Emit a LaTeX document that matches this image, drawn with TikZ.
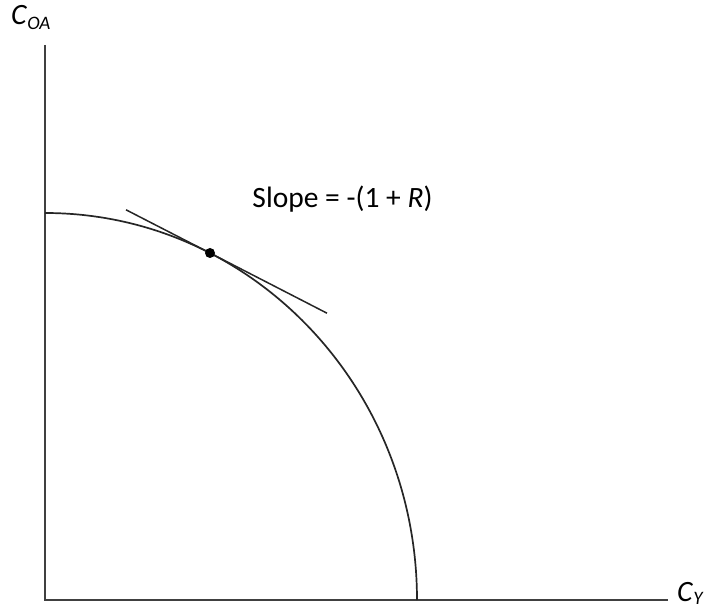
\documentclass[tikz,border=0pt]{standalone}
\usepackage{fontspec}
\setmainfont{Carlito}
\begin{document}
\begin{tikzpicture}[x=1pt,y=1pt,
  axisline/.style={line width=2pt,draw=black!75},
  curveline/.style={line width=1.7pt,draw=black!85},
  lbl/.style={inner sep=0pt,font=\fontsize{29.5}{34}\selectfont},
  sub/.style={font=\fontsize{19}{20}\selectfont},
  dotnode/.style={circle,fill=black,inner sep=0pt,minimum size=10pt}]
\useasboundingbox (0,0) rectangle (712,611);
\coordinate (O) at (45,11);
\coordinate (ytop) at (45,566);
\coordinate (xend) at (668,11);
\coordinate (cstart) at (417,11);
\coordinate (tA) at (126,401.2);
\coordinate (tB) at (327,297.8);
\draw[axisline] (ytop) -- (O) -- (xend);
\draw[curveline] (cstart) arc[start angle=0,end angle=90,x radius=372pt,y radius=387pt];
\draw[curveline,line width=1.5pt] (tA) -- (tB);
\node[dotnode] (pt) at (210,358) {};
\node[lbl,anchor=base] (slope) at (342.5,403) {Slope = -(1 + \textit{R})};
\node[lbl,anchor=base west] (cOA) at (11,586) {\textit{C}\raisebox{-5pt}{\fontsize{19}{20}\selectfont\textit{OA}}};
\node[lbl,anchor=base west] (cY) at (677,10) {\textit{C}\raisebox{-3pt}{\fontsize{19}{20}\selectfont\textit{Y}}};
\end{tikzpicture}
\end{document}
